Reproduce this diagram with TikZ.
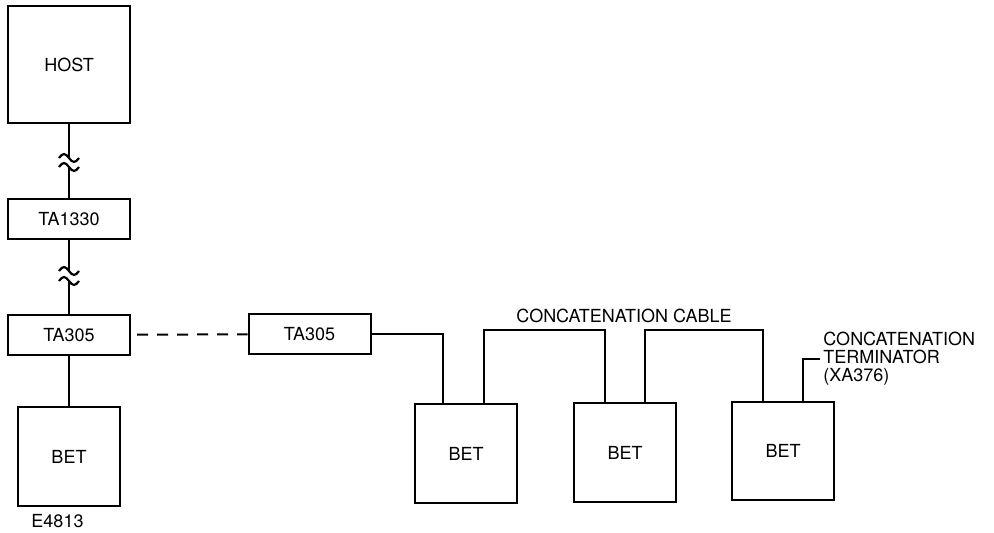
\documentclass[tikz,border=0pt]{standalone}
\usepackage{fontspec}
\setmainfont{TeX Gyre Heros}
\usepackage{tikz}
\usetikzlibrary{positioning, calc}
\tikzstyle{unit} = [draw=black, line width=1pt, inner sep=0pt, text centered, font=\fontsize{9}{10}\selectfont]
\tikzstyle{wire} = [line width=1pt]

\begin{document}
\begin{tikzpicture}[x=0.5pt, y=-0.5pt, tabox/.style={unit, minimum width=61pt, minimum height=20pt}, betbox/.style={unit, minimum width=51pt, minimum height=49.5pt}, lbl/.style={font=\fontsize{9}{10}\selectfont, inner sep=0pt}, tilde/.pic={\draw[wire, line width=1.1pt] (-10,0) sin (-5,-4) cos (0,0) sin (5,4) cos (10,0);}]
    \useasboundingbox (0,0) rectangle (994,533);
    \node[unit, minimum width=61pt, minimum height=58.5pt] (host) at (69,64.5) {HOST};
    \node[tabox] (ta1330) at (69,219) {TA1330};
    \node[tabox] (tal) at (69,335) {TA305};
    \node[tabox] (tar) at (309.5,334) {TA305};
    \node[betbox] (betl) at (69,456.5) {BET};
    \node[betbox] (bet1) at (466,453.5) {BET};
    \node[betbox] (bet2) at (625,452.5) {BET};
    \node[betbox, minimum height=49pt] (bet3) at (783,451) {BET};
    \coordinate (brk1a) at (69,158);
    \coordinate (brk1b) at (69,167);
    \coordinate (brk2a) at (69,271);
    \coordinate (brk2b) at (69,281);
    \pic at (brk1a) {tilde};
    \pic at (brk1b) {tilde};
    \pic at (brk2a) {tilde};
    \pic at (brk2b) {tilde};
    \draw[wire] (host) -- (brk1a);
    \draw[wire] (brk1b) -- (ta1330);
    \draw[wire] (ta1330) -- (brk2a);
    \draw[wire] (brk2b) -- (tal);
    \draw[wire] (tal) -- (betl);
    \draw[wire, dash pattern=on 5.5pt off 4.5pt, dash phase=-3pt] (tal) -- (tar);
    \draw[wire] (tar) -| ([xshift=-11.5pt]bet1.north);
    \draw[wire] ([xshift=9pt]bet1.north) -- ++(0,-73) -| ([xshift=-10pt]bet2.north);
    \draw[wire] ([xshift=10pt]bet2.north) -- ++(0,-72) -| ([xshift=-10pt]bet3.north);
    \coordinate (term) at (820,359);
    \draw[wire] ([xshift=10pt]bet3.north) |- (term);
    \node[lbl] (cable) at (624,316) {CONCATENATION CABLE};
    \node[lbl, anchor=west, align=left, font=\fontsize{9}{9}\selectfont] (termlbl) at ([xshift=1.5pt]term) {CONCATENATION\\TERMINATOR\\(XA376)};
    \node[lbl] (fig) at (57.5,521) {E4813};
\end{tikzpicture}
\end{document}
